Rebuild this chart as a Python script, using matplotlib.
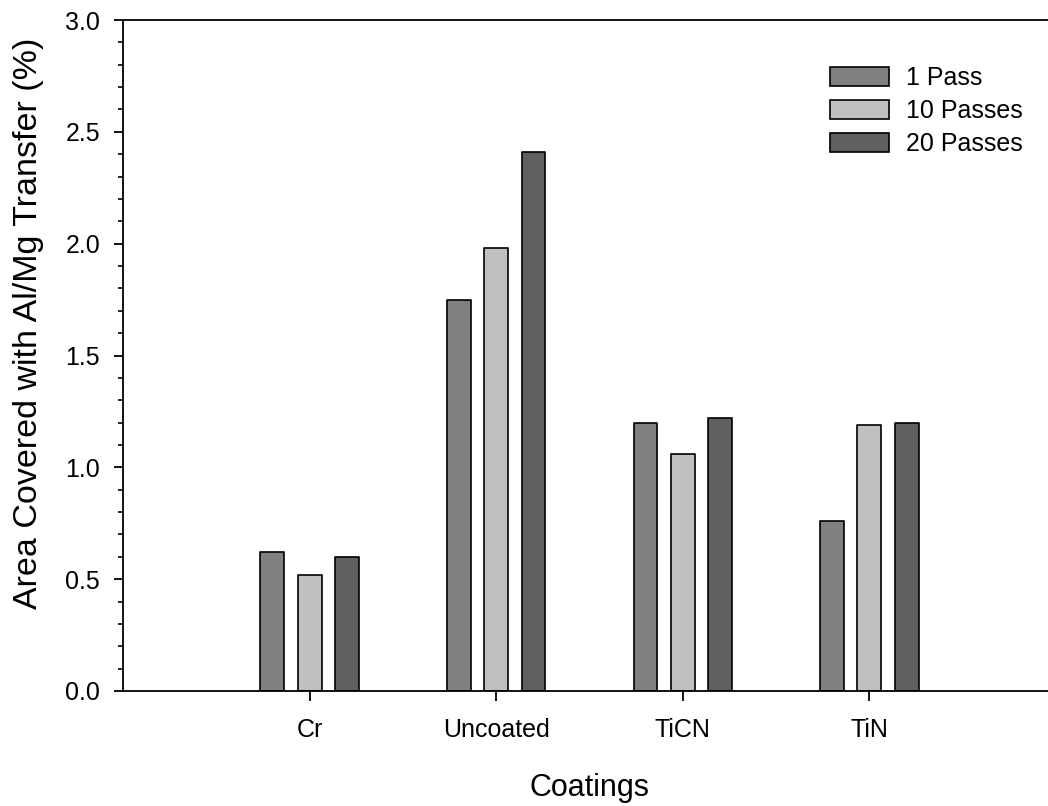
import numpy as np
from matplotlib import pyplot as plt
from matplotlib.ticker import MultipleLocator

plt.rcParams['font.family'] = ['Liberation Sans', 'DejaVu Sans']

coatings = ["Cr", "Uncoated", "TiCN", "TiN"]
passes = ["1 Pass", "10 Passes", "20 Passes"]
pass_1 = [0.62, 1.75, 1.20, 0.76]
pass_10 = [0.52, 1.98, 1.06, 1.19]
pass_20 = [0.60, 2.41, 1.22, 1.20]

colors = ["#808080", "#c0c0c0", "#606060"]

fig = plt.figure(figsize=(10.48, 8.06), dpi=100)
# right edge runs past the figure, so the frame stays open on that side
ax = fig.add_axes([123 / 1048, 1 - 691 / 806, 933 / 1048, 671 / 806])

x = np.arange(1, len(coatings) + 1)
offset = 0.2
width = 0.128
for i, (vals, name) in enumerate(zip([pass_1, pass_10, pass_20], passes)):
    ax.bar(x + (i - 1) * offset, vals, width, color=colors[i], edgecolor="black",
           linewidth=1.2, label=name, joinstyle="round")

ax.set_xlim(0, 5)
ax.set_ylim(0, 3.0)
ax.set_xticks(x)
ax.set_xticklabels(coatings)
ax.yaxis.set_major_locator(MultipleLocator(0.5))
ax.yaxis.set_minor_locator(MultipleLocator(0.1))
ax.yaxis.set_major_formatter(plt.FormatStrFormatter("%.1f"))

for side in ["left", "bottom", "top"]:
    ax.spines[side].set_linewidth(1.3)
ax.spines["right"].set_visible(False)

ax.tick_params(axis="both", which="major", direction="out", labelsize=18, width=1.3,
               colors="black")
ax.tick_params(axis="y", which="major", length=6.5, pad=10)
ax.tick_params(axis="x", which="major", length=7.5, pad=12)
ax.tick_params(axis="y", which="minor", direction="out", length=3.6, width=1.2)
ax.tick_params(axis="x", which="minor", bottom=False)

ax.set_xlabel("Coatings", fontsize=22, labelpad=22)
ax.set_ylabel("Area Covered with Al/Mg Transfer (%)", fontsize=24.5)
ax.yaxis.set_label_coords(-0.085, 0.548)

ax.legend(loc="upper left", bbox_to_anchor=(830 / 1048, 1 - 66 / 806),
          bbox_transform=fig.transFigure, frameon=False, fontsize=18,
          borderpad=0, borderaxespad=0, handlelength=2.35, handleheight=0.78,
          handletextpad=0.7, labelspacing=0.36)

plt.savefig("out.png", dpi=100)
